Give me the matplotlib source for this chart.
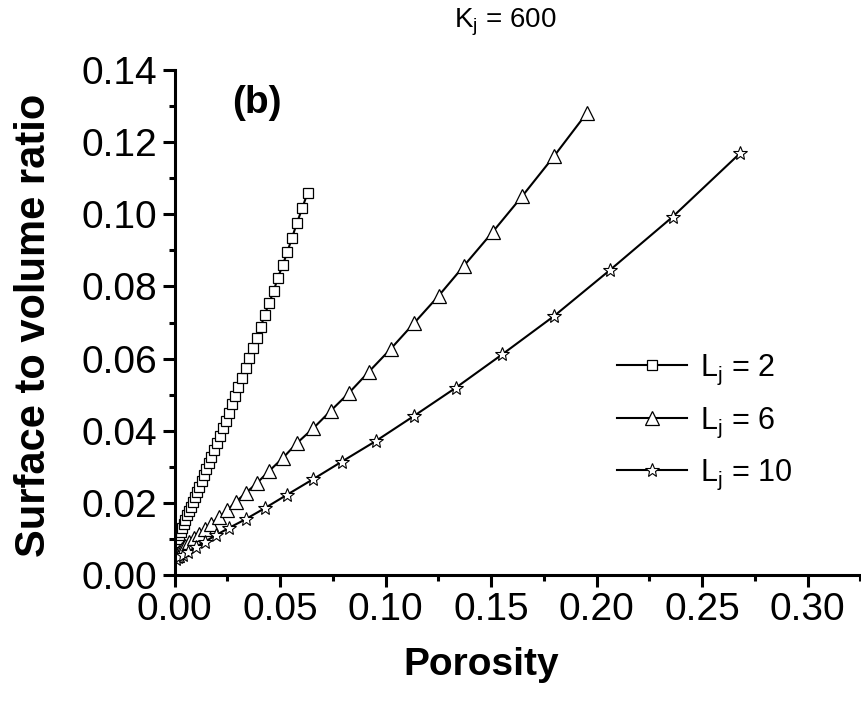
import matplotlib
matplotlib.use('Agg')
import matplotlib.pyplot as plt
from matplotlib.ticker import MultipleLocator, FormatStrFormatter

plt.rcParams['font.family'] = ['Liberation Sans', 'DejaVu Sans']
plt.rcParams['mathtext.fontset'] = 'custom'
plt.rcParams['mathtext.rm'] = 'Liberation Sans'

# L_j = 2 (squares)
por_l2 = [0.0001, 0.0004, 0.0008, 0.0012, 0.0017, 0.0023, 0.0029, 0.0036, 0.0043, 0.0051,
          0.0059, 0.0068, 0.0077, 0.0086, 0.0096, 0.0106, 0.0117, 0.0128, 0.0139, 0.0151,
          0.0163, 0.0175, 0.0188, 0.0201, 0.0215, 0.0229, 0.0243, 0.0257, 0.0272, 0.0287,
          0.0303, 0.0320, 0.0337, 0.0355, 0.0372, 0.0390, 0.0409, 0.0427, 0.0448, 0.0470,
          0.0489, 0.0513, 0.0535, 0.0557, 0.0581, 0.0606, 0.0631]
svr_l2 = [0.0067, 0.0074, 0.0082, 0.0091, 0.0100, 0.0110, 0.0120, 0.0131, 0.0142, 0.0153,
          0.0165, 0.0177, 0.0189, 0.0202, 0.0216, 0.0230, 0.0245, 0.0260, 0.0276, 0.0293,
          0.0310, 0.0328, 0.0347, 0.0366, 0.0386, 0.0407, 0.0428, 0.0450, 0.0473, 0.0497,
          0.0521, 0.0547, 0.0573, 0.0601, 0.0629, 0.0658, 0.0688, 0.0721, 0.0753, 0.0787,
          0.0823, 0.0859, 0.0896, 0.0935, 0.0977, 0.1018, 0.1060]

# L_j = 6 (triangles)
por_l6 = [0.0010, 0.0021, 0.0034, 0.0050, 0.0070, 0.0092, 0.0118, 0.0145, 0.0174, 0.0210,
          0.0249, 0.0291, 0.0339, 0.0391, 0.0446, 0.0513, 0.0579, 0.0658, 0.0740, 0.0827,
          0.0922, 0.1025, 0.1135, 0.1252, 0.1373, 0.1508, 0.1649, 0.1800, 0.1956]
svr_l6 = [0.0055, 0.0063, 0.0071, 0.0080, 0.0091, 0.0102, 0.0114, 0.0127, 0.0142, 0.0160,
          0.0179, 0.0203, 0.0228, 0.0255, 0.0287, 0.0324, 0.0365, 0.0407, 0.0455, 0.0505,
          0.0564, 0.0627, 0.0698, 0.0774, 0.0858, 0.0951, 0.1051, 0.1162, 0.1282]

# L_j = 10 (stars)
por_l10 = [0.0007, 0.0018, 0.0039, 0.0065, 0.0100, 0.0143, 0.0198, 0.0260, 0.0338, 0.0430,
           0.0532, 0.0655, 0.0792, 0.0953, 0.1135, 0.1333, 0.1554, 0.1799, 0.2065, 0.2361,
           0.2680]
svr_l10 = [0.0044, 0.0049, 0.0055, 0.0065, 0.0077, 0.0092, 0.0111, 0.0131, 0.0155, 0.0186,
           0.0222, 0.0265, 0.0314, 0.0371, 0.0441, 0.0519, 0.0612, 0.0718, 0.0846, 0.0993,
           0.1169]

fig = plt.figure(figsize=(8.61, 7.01), dpi=100)
ax = fig.add_axes([174.5 / 861, 126 / 701, 685.75 / 861, 505 / 701])

ax.plot(por_l2, svr_l2, color='black', linewidth=1.5, marker='s', markersize=7.5,
        markerfacecolor='white', markeredgecolor='black', markeredgewidth=0.9,
        label=r'$\mathregular{L_j}$ = 2')
ax.plot(por_l6, svr_l6, color='black', linewidth=1.5, marker='^', markersize=10.5,
        markerfacecolor='white', markeredgecolor='black', markeredgewidth=0.9,
        label=r'$\mathregular{L_j}$ = 6')
ax.plot(por_l10, svr_l10, color='black', linewidth=1.5, marker='*', markersize=10,
        markerfacecolor='white', markeredgecolor='black', markeredgewidth=0.8,
        label=r'$\mathregular{L_j}$ = 10')

ax.set_xlim(0, 0.325)
ax.set_ylim(0, 0.14)
ax.xaxis.set_major_locator(MultipleLocator(0.05))
ax.xaxis.set_minor_locator(MultipleLocator(0.025))
ax.yaxis.set_major_locator(MultipleLocator(0.02))
ax.yaxis.set_minor_locator(MultipleLocator(0.01))
ax.xaxis.set_major_formatter(FormatStrFormatter('%.2f'))
ax.yaxis.set_major_formatter(FormatStrFormatter('%.2f'))

for side in ['top', 'right']:
    ax.spines[side].set_visible(False)
for side in ['left', 'bottom']:
    ax.spines[side].set_linewidth(2.2)

ax.tick_params(which='major', direction='out', length=8.5, width=2.2, labelsize=28, pad=4)
ax.tick_params(which='minor', direction='out', length=4.5, width=2.2)

ax.set_xlabel('Porosity', fontsize=28, fontweight='bold')
ax.xaxis.set_label_coords(0.447, -0.143)
ax.set_ylabel('Surface to volume ratio', fontsize=30, fontweight='bold')
ax.yaxis.set_label_coords(-0.175, 0.495)

ax.text(0.12, 0.934, '(b)', transform=ax.transAxes, fontsize=28, fontweight='bold',
        ha='center', va='center')
fig.text(505 / 861, 1 - 22 / 701, r'$\mathregular{K_j}$ = 600', fontsize=20,
         ha='center', va='center')

ax.legend(loc='upper left', bbox_to_anchor=((617 - 174.5) / 685.75, (575 - 353) / 505),
          frameon=False, fontsize=22, handlelength=2.3, handletextpad=0.4,
          labelspacing=0.6, borderpad=0, borderaxespad=0)

plt.savefig('out.png', dpi=100)
